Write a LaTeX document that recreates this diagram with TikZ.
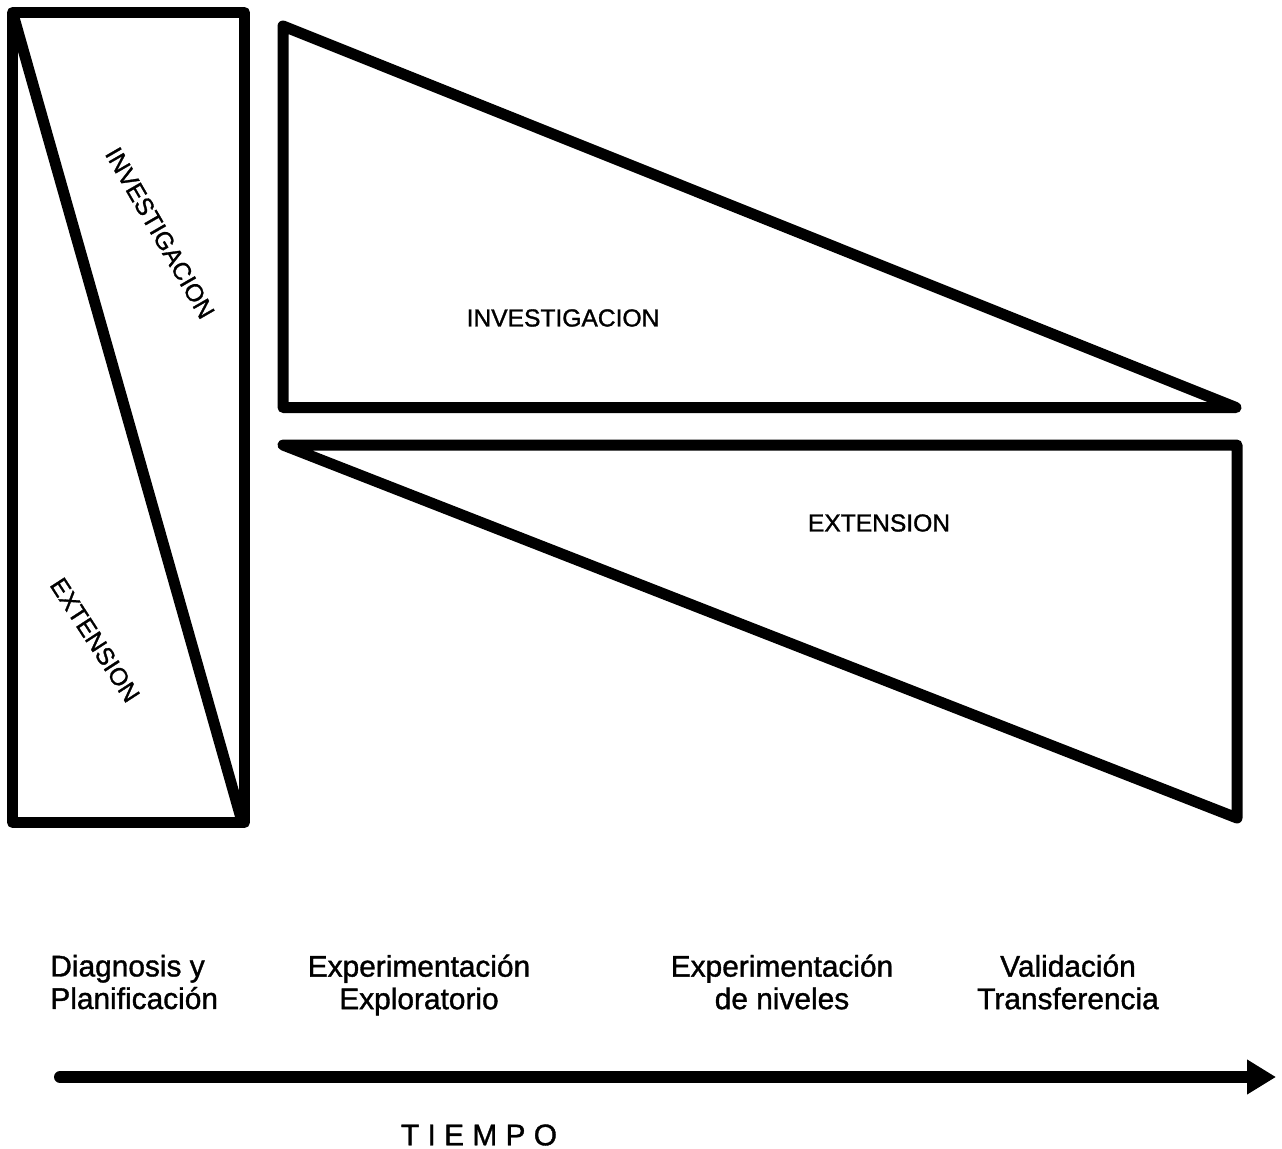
\documentclass[tikz,border=0pt]{standalone}
\usepackage{fontspec}
\setmainfont{Liberation Sans}
\newfontfamily\letterfont[FakeBold=1.2]{Liberation Sans}
\usetikzlibrary{arrows.meta}
\tikzset{
 heavy/.style={draw=black, line width=0.22cm, line join=round, line cap=round},
 capsname/.style={font=\letterfont\fontsize{14}{16}\selectfont, inner sep=0pt},
 phase/.style={font=\letterfont\fontsize{17}{18.5}\selectfont, inner sep=0pt},
}

\begin{document}
\begin{tikzpicture}[x=0.02cm, y=-0.02cm]
        \useasboundingbox (0, 0) rectangle (1282, 1149);

        % first phase: box split by the diagonal
        \draw [heavy] (12.5, 12.5) rectangle (244.5, 822.5);
        \draw [heavy] (13, 14) -- (241, 818);
        \node [capsname, rotate=-60] (invLeft) at (160, 233) {INVESTIGACION};
        \node [capsname, rotate=-57] (extLeft) at (95, 640) {EXTENSION};

        % research decreasing
        \draw [heavy] (283, 26) -- (283, 407.5) -- (1236, 407.5) -- cycle;
        \node [capsname] (invMain) at (563, 318) {INVESTIGACION};

        % extension increasing
        \draw [heavy] (283, 445) -- (1237, 445) -- (1237, 818) -- cycle;
        \node [capsname] (extMain) at (879, 523) {EXTENSION};

        % phases
        \node [phase, anchor=west, align=left] (diag) at (50, 982) {Diagnosis y\\Planificación};
        \node [phase, align=center] (explo) at (419, 985) {Experimentación\\Exploratorio};
        \node [phase, align=center] (niv) at (782, 982) {Experimentación\\de niveles};
        \node [phase, align=center] (valid) at (1068, 982) {Validación\\Transferencia};

        % time axis
        \coordinate (tStart) at (60, 1077);
        \coordinate (tEnd) at (1276, 1077);
        \draw [line width=0.24cm, line cap=round, -{Triangle[length=0.58cm, width=0.66cm]}] (tStart) -- (tEnd);
        \node [capsname, font=\letterfont\fontsize{17}{19}\selectfont] (tiempo) at (479, 1135) {T\ I\ E\ M\ P\ O};
\end{tikzpicture}
\end{document}
